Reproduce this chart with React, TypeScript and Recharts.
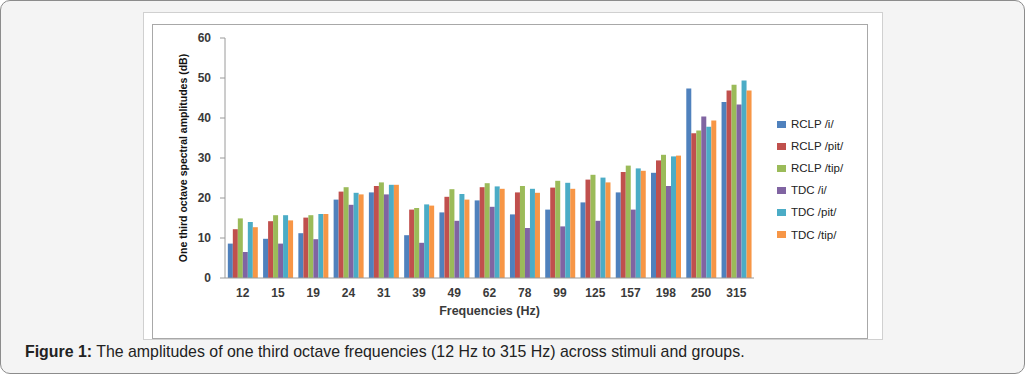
import React from "react";
import { BarChart, Bar, XAxis, YAxis, Legend } from "recharts";

// One-third octave centre frequencies (Hz)
const freqs = ["12", "15", "19", "24", "31", "39", "49", "62", "78", "99", "125", "157", "198", "250", "315"];

// amplitudes in dB
const rclpI = [8.6, 9.8, 11.2, 19.6, 21.4, 10.7, 16.4, 19.4, 15.9, 17.1, 18.9, 21.4, 26.3, 47.4, 44.0];
const rclpPit = [12.2, 14.2, 15.1, 21.6, 23.0, 17.1, 20.3, 22.7, 21.4, 22.6, 24.6, 26.5, 29.4, 36.2, 46.9];
const rclpTip = [14.9, 15.7, 15.7, 22.7, 23.9, 17.5, 22.2, 23.7, 23.0, 24.3, 25.8, 28.1, 30.8, 36.9, 48.3];
const tdcI = [6.5, 8.6, 9.7, 18.3, 20.9, 8.8, 14.3, 17.8, 12.5, 12.9, 14.3, 17.1, 23.0, 40.4, 43.4];
const tdcPit = [14.0, 15.7, 16.0, 21.3, 23.3, 18.4, 21.0, 22.9, 22.3, 23.8, 25.1, 27.4, 30.4, 37.8, 49.4];
const tdcTip = [12.7, 14.4, 16.0, 20.9, 23.3, 18.1, 19.6, 22.3, 21.3, 22.3, 23.9, 26.8, 30.6, 39.4, 46.9];

const yTicks = [0, 10, 20, 30, 40, 50, 60];
// category boundaries, where Excel puts its x tick marks
const edges = [0, 1, 2, 3, 4, 5, 6, 7, 8, 9, 10, 11, 12, 13, 14, 15];

const series = [
  { key: "rclpI", name: "RCLP /i/", color: "#4F81BD", values: rclpI },
  { key: "rclpPit", name: "RCLP /pit/", color: "#C0504D", values: rclpPit },
  { key: "rclpTip", name: "RCLP /tip/", color: "#9BBB59", values: rclpTip },
  { key: "tdcI", name: "TDC /i/", color: "#8064A2", values: tdcI },
  { key: "tdcPit", name: "TDC /pit/", color: "#4BACC6", values: tdcPit },
  { key: "tdcTip", name: "TDC /tip/", color: "#F79646", values: tdcTip },
];

const data = freqs.map((f, i) => {
  const row: Record<string, any> = { freq: f, idx: i + 0.5 };
  series.forEach((s) => (row[s.key] = s.values[i]));
  return row;
});

const AXIS = "#9a9a9a";
const TXT = "#3a3a3a";
const FONT = "'Liberation Sans', Arial, sans-serif";

function LegendBox({ payload }: any) {
  return (
    <div style={{ fontFamily: FONT, fontSize: 11.5, color: "#222" }}>
      {(payload || []).map((p: any) => (
        <div key={p.value} style={{ height: 22.1, display: "flex", alignItems: "center" }}>
          <span style={{ width: 9, height: 7, background: p.color, marginRight: 5, display: "inline-block" }} />
          <span>{p.value}</span>
        </div>
      ))}
    </div>
  );
}

export default function App() {
  return (
    <div
      style={{
        position: "absolute",
        left: 0,
        top: 0,
        width: 1023,
        height: 372,
        border: "1px solid #8c8c8c",
        borderRadius: 10,
        background: "#f4f4f4",
        fontFamily: FONT,
      }}
    >
      {/* white picture area */}
      <div
        style={{
          position: "absolute",
          left: 142,
          top: 11,
          width: 738,
          height: 326,
          background: "#fff",
          border: "1px solid #d0d0d0",
        }}
      />
      {/* chart area border */}
      <div
        style={{
          position: "absolute",
          left: 151,
          top: 23,
          width: 714,
          height: 313,
          border: "1px solid #a8a8a8",
        }}
      />
      <div style={{ position: "absolute", left: 152, top: 24 }}>
        <BarChart
          width={715}
          height={314}
          data={data}
          margin={{ top: 13, right: 114, bottom: 0, left: 0 }}
          barCategoryGap="8%"
          barGap={0}
        >
          <XAxis
            xAxisId="edges"
            type="number"
            dataKey="idx"
            domain={[0, 15]}
            ticks={edges}
            tick={false}
            axisLine={false}
            tickLine={{ stroke: AXIS }}
            tickSize={5}
            height={0}
          />
          <XAxis
            dataKey="freq"
            height={61}
            axisLine={{ stroke: AXIS }}
            tickLine={false}
            tickSize={6}
            tickMargin={4}
            tick={{ fill: TXT, fontSize: 12, fontWeight: "bold", fontFamily: FONT }}
            label={{
              content: ({ viewBox }: any) => (
                <text
                  x={viewBox.x + viewBox.width / 2}
                  y={viewBox.y + 37}
                  textAnchor="middle"
                  fill={TXT}
                  fontSize={12.5}
                  fontWeight="bold"
                  fontFamily={FONT}
                >
                  Frequencies (Hz)
                </text>
              ),
            }}
          />
          <YAxis
            width={72}
            domain={[0, 60]}
            ticks={yTicks}
            interval={0}
            axisLine={{ stroke: AXIS }}
            tickLine={{ stroke: AXIS }}
            tickSize={5}
            tickMargin={9}
            tick={{ fill: TXT, fontSize: 12, fontWeight: "bold", fontFamily: FONT }}
            label={{
              content: ({ viewBox }: any) => {
                const cx = viewBox.x + 30;
                const cy = viewBox.y + viewBox.height / 2;
                return (
                  <text
                    x={cx}
                    y={cy}
                    transform={`rotate(-90 ${cx} ${cy})`}
                    textAnchor="middle"
                    dominantBaseline="central"
                    fill="#111"
                    fontSize={10.5}
                    fontWeight="bold"
                    fontFamily={FONT}
                  >
                    One third octave spectral amplitudes (dB)
                  </text>
                );
              },
            }}
          />
          <Legend
            layout="vertical"
            align="center"
            verticalAlign="middle"
            content={<LegendBox />}
            wrapperStyle={{ left: 624, top: 88, width: 90 }}
          />
          {series.map((s) => (
            <Bar key={s.key} dataKey={s.key} name={s.name} fill={s.color} isAnimationActive={false} />
          ))}
        </BarChart>
      </div>
      <div
        style={{
          position: "absolute",
          left: 24,
          top: 342,
          fontSize: 15.9,
          color: "#222",
          whiteSpace: "nowrap",
        }}
      >
        <b>Figure 1:</b> The amplitudes of one third octave frequencies (12 Hz to 315 Hz) across stimuli and groups.
      </div>
    </div>
  );
}
